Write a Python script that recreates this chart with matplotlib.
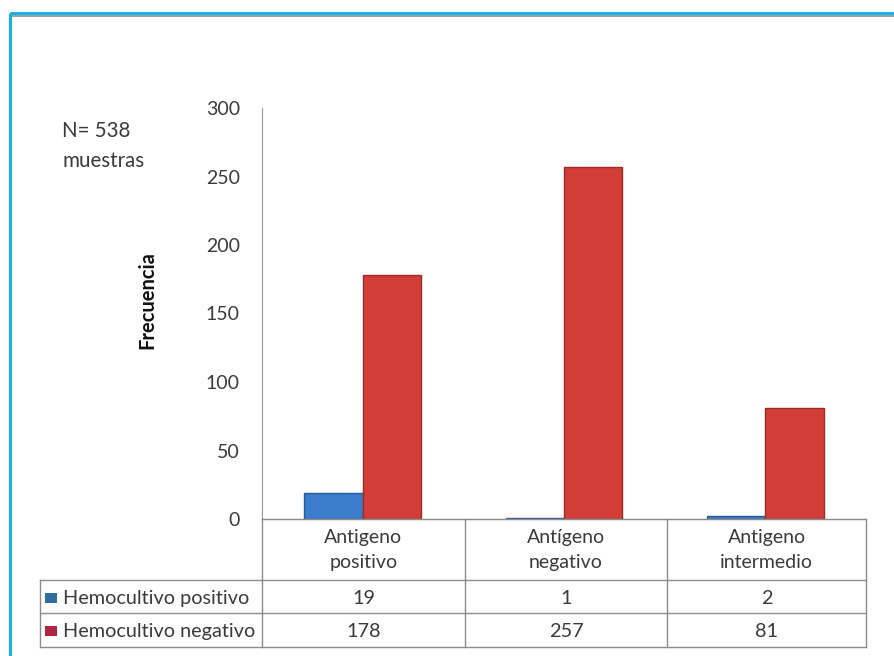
import numpy as np
import matplotlib
matplotlib.use("Agg")
import matplotlib.pyplot as plt
from matplotlib.patches import Rectangle

plt.rcParams['font.family'] = ['Lato', 'DejaVu Sans']

# --- data ---
categories = ["Antigeno\npositivo", "Antígeno\nnegativo", "Antigeno\nintermedio"]
series_names = ["Hemocultivo positivo", "Hemocultivo negativo"]
hemo_pos = [19, 1, 2]
hemo_neg = [178, 257, 81]
yticks = [0, 50, 100, 150, 200, 250, 300]

W, H = 894, 656
fig = plt.figure(figsize=(W / 100, H / 100), dpi=100)
fig.patch.set_facecolor("white")

def fx(px):
    return px / W

def fy(py):
    return 1 - py / H

# plot area in pixel terms
left, right, top, bottom = 262, 866, 108, 519
ax = fig.add_axes([fx(left), fy(bottom), fx(right) - fx(left), fy(top) - fy(bottom)])

x = np.arange(len(categories))
bw = 0.29
ax.bar(x - bw / 2, hemo_pos, width=bw, color="#3b7dcc", edgecolor="#28599a", linewidth=1.0)
ax.bar(x + bw / 2, hemo_neg, width=bw, color="#d23d37", edgecolor="#9a2a25", linewidth=1.0)

ax.set_xlim(-0.5, len(categories) - 0.5)
ax.set_ylim(0, 300)
ax.set_yticks(yticks)
ax.set_xticks([])
ax.tick_params(axis="y", length=0, pad=16, labelsize=14, labelcolor="#3a3a3a")
for s in ["top", "right"]:
    ax.spines[s].set_visible(False)
ax.spines["left"].set_color("#999999")
ax.spines["bottom"].set_color("#999999")

# overlay in pixel coordinates for table, frame and text
ov = fig.add_axes([0, 0, 1, 1], zorder=5)
ov.set_xlim(0, W)
ov.set_ylim(H, 0)
ov.axis("off")
ov.patch.set_alpha(0)

# outer frame (cropped on right and bottom)
ov.add_patch(Rectangle((10, 13), 900, 660, fill=False, edgecolor="#1ab0e8", linewidth=2.2))
ov.plot([12, 894], [16, 16], color="#8a8a8a", lw=1.2)

# table grid
col_x = [262, 465, 667, 866]
row_y = [519, 580, 613, 647]
tab_left = 40
gc = "#8c8c8c"
for cx in col_x:
    ov.plot([cx, cx], [row_y[0], row_y[-1]], color=gc, lw=1)
ov.plot([tab_left, tab_left], [row_y[1], row_y[-1]], color=gc, lw=1)
ov.plot([col_x[0], col_x[-1]], [row_y[0], row_y[0]], color=gc, lw=1)
for ry in row_y[1:]:
    ov.plot([tab_left, col_x[-1]], [ry, ry], color=gc, lw=1)

tc = "#3a3a3a"
centers = [(col_x[i] + col_x[i + 1]) / 2 for i in range(3)]
for cxp, lab in zip(centers, categories):
    l1, l2 = lab.split("\n")
    ov.text(cxp, 543, l1, ha="center", va="baseline", fontsize=14, color=tc)
    ov.text(cxp, 568, l2, ha="center", va="baseline", fontsize=14, color=tc)

marker_cols = ["#2f6e9f", "#b02640"]
row_base = [604, 637]
for r, (name, vals, mc) in enumerate(zip(series_names, [hemo_pos, hemo_neg], marker_cols)):
    yb = row_base[r]
    ov.add_patch(Rectangle((45, yb - 11), 12, 10, facecolor=mc, edgecolor="none"))
    ov.text(63, yb, name, ha="left", va="baseline", fontsize=14.3, color=tc)
    for cxp, v in zip(centers, vals):
        ov.text(cxp, yb, str(v), ha="center", va="baseline", fontsize=14.3, color=tc)

# annotations
ov.text(62, 137, "N= 538", ha="left", va="baseline", fontsize=14.8, color=tc)
ov.text(62, 167, "muestras", ha="left", va="baseline", fontsize=14.8, color=tc)
ov.text(147, 300, "Frecuencia", ha="center", va="center", rotation=90,
         fontsize=14.5, fontweight="bold", color="#111111")

fig.savefig("out.png", dpi=100)
